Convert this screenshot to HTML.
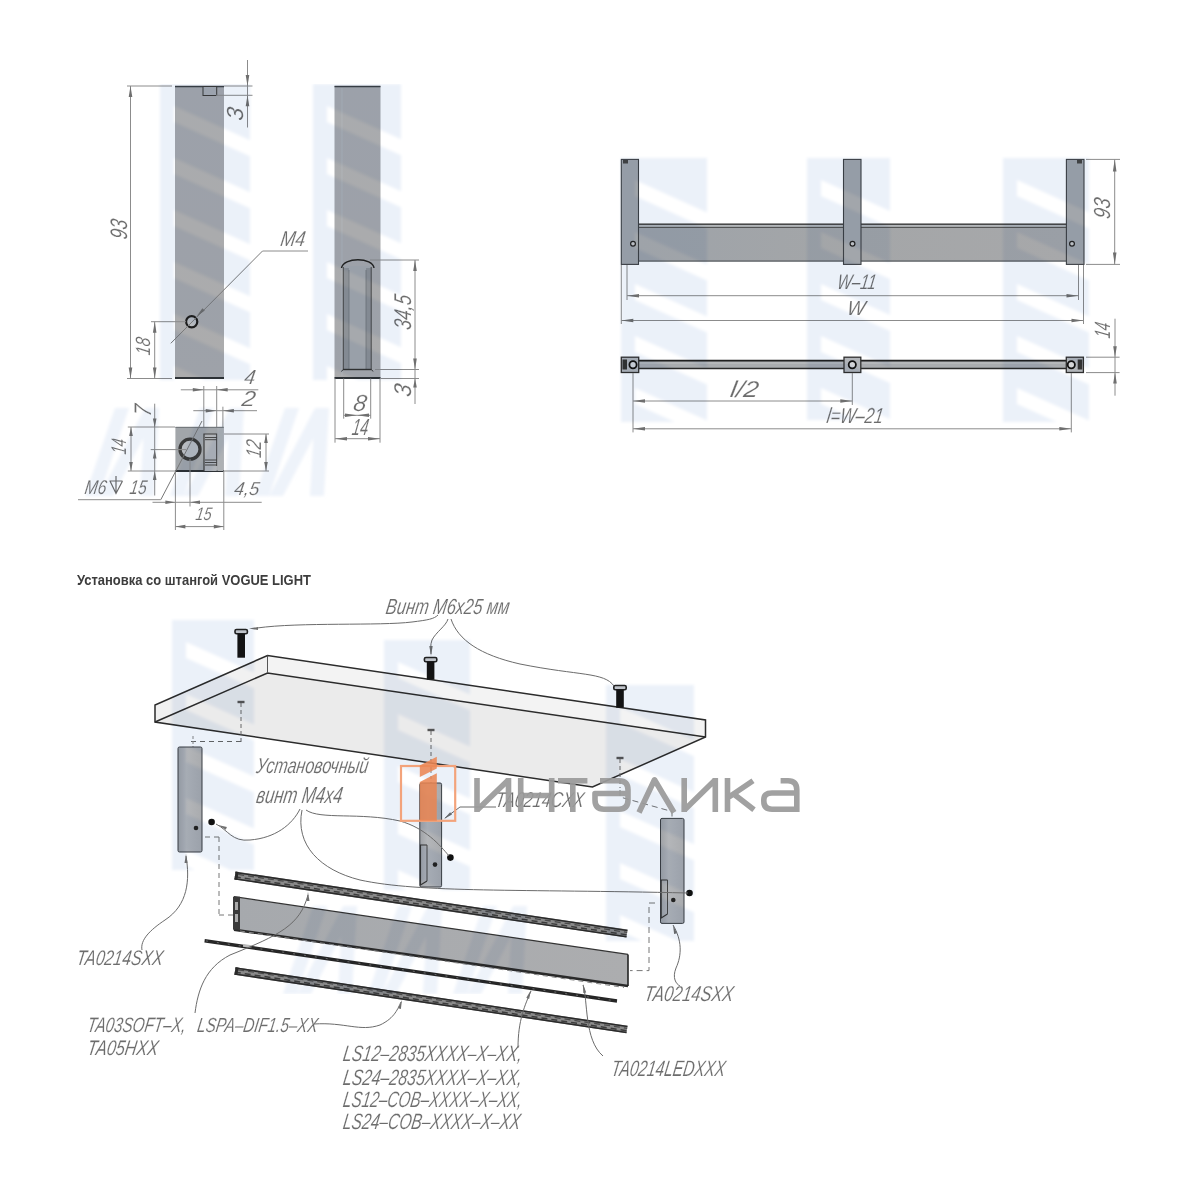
<!DOCTYPE html><html><head><meta charset="utf-8"><style>html,body{margin:0;padding:0;background:#fff;}svg{display:block;will-change:transform;}</style></head><body>
<svg width="1200" height="1200" viewBox="0 0 1200 1200">
<defs>
<linearGradient id="gpost" x1="0" y1="0" x2="0" y2="1">
 <stop offset="0" stop-color="#a9abae"/><stop offset="0.5" stop-color="#aaabad"/><stop offset="1" stop-color="#acacad"/></linearGradient>
<linearGradient id="gbar" x1="0" y1="0" x2="1" y2="0">
 <stop offset="0" stop-color="#9ea3a9"/><stop offset="0.5" stop-color="#a4a6a8"/><stop offset="1" stop-color="#a7a8aa"/></linearGradient>
<linearGradient id="gleg" x1="0" y1="0" x2="1" y2="0">
 <stop offset="0" stop-color="#9fa2a6"/><stop offset="0.35" stop-color="#b4b6b9"/><stop offset="1" stop-color="#a9abae"/></linearGradient>
<linearGradient id="gprof" x1="0" y1="0" x2="1" y2="0">
 <stop offset="0" stop-color="#a6a9ad"/><stop offset="1" stop-color="#acadaf"/></linearGradient>
<filter id="wblur" x="0" y="0" width="1" height="1"><feGaussianBlur stdDeviation="1.6"/></filter>
</defs>
<rect x="0" y="0" width="1200" height="1200" fill="#ffffff" stroke="none" stroke-width="1" rx="0" />
<rect x="175" y="86" width="49" height="292" fill="url(#gpost)" stroke="none" stroke-width="1" rx="0" />
<line x1="175" y1="86.5" x2="224" y2="86.5" stroke="#3a3f45" stroke-width="1.6"/>
<line x1="175" y1="378" x2="224" y2="378" stroke="#2e3236" stroke-width="2"/>
<rect x="203" y="86.5" width="13.7" height="9" fill="#a9adb2" stroke="#3a3a3a" stroke-width="1" rx="0" />
<circle cx="191.7" cy="321.7" r="5.6" fill="#b9bcc0" stroke="#1e1e1e" stroke-width="2.2"/>
<line x1="127" y1="86" x2="172" y2="86" stroke="#8c8c8c" stroke-width="1.0"/>
<line x1="127" y1="378.5" x2="172" y2="378.5" stroke="#8c8c8c" stroke-width="1.0"/>
<line x1="130.5" y1="86" x2="130.5" y2="378.5" stroke="#8c8c8c" stroke-width="1.0"/>
<polygon points="130.5,86.0 132.3,97.0 128.7,97.0" fill="#6f6f6f"/>
<polygon points="130.5,378.5 128.7,367.5 132.3,367.5" fill="#6f6f6f"/>
<text transform="translate(126.5,240.0) rotate(-90) skewX(-9)" x="0" y="0" font-family="Liberation Sans" font-style="italic" font-weight="normal" font-size="23.9" fill="#6c6c6c" stroke="#ffffff" stroke-width="0.15" textLength="19.5" lengthAdjust="spacingAndGlyphs">93</text>
<line x1="247.5" y1="60" x2="247.5" y2="127.5" stroke="#8c8c8c" stroke-width="1.0"/>
<line x1="224" y1="86" x2="252.5" y2="86" stroke="#8c8c8c" stroke-width="1.0"/>
<line x1="216" y1="95.3" x2="252.5" y2="95.3" stroke="#8c8c8c" stroke-width="1.0"/>
<polygon points="247.5,86.0 245.7,75.0 249.3,75.0" fill="#6f6f6f"/>
<polygon points="247.5,95.3 249.3,106.3 245.7,106.3" fill="#6f6f6f"/>
<text transform="translate(243.0,121.2) rotate(-90) skewX(-9)" x="0" y="0" font-family="Liberation Sans" font-style="italic" font-weight="normal" font-size="23.2" fill="#6c6c6c" stroke="#ffffff" stroke-width="0.15" textLength="12.7" lengthAdjust="spacingAndGlyphs">3</text>
<line x1="151" y1="321.7" x2="186" y2="321.7" stroke="#8c8c8c" stroke-width="1.0"/>
<line x1="154.7" y1="321.7" x2="154.7" y2="378.5" stroke="#8c8c8c" stroke-width="1.0"/>
<polygon points="154.7,321.7 156.5,332.7 152.9,332.7" fill="#6f6f6f"/>
<polygon points="154.7,378.5 152.9,367.5 156.5,367.5" fill="#6f6f6f"/>
<text transform="translate(150.0,355.7) rotate(-90) skewX(-9)" x="0" y="0" font-family="Liberation Sans" font-style="italic" font-weight="normal" font-size="20.6" fill="#6c6c6c" stroke="#ffffff" stroke-width="0.15" textLength="17.2" lengthAdjust="spacingAndGlyphs">18</text>
<line x1="170.8" y1="343.3" x2="262.5" y2="251" stroke="#7a7a7a" stroke-width="1"/>
<line x1="262.5" y1="251" x2="308" y2="251" stroke="#8c8c8c" stroke-width="1"/>
<polygon points="196.5,316.5 202.4,308.2 204.8,310.6" fill="#6f6f6f"/>
<text transform="translate(279.8,246.2) skewX(-9)" x="0" y="0" font-family="Liberation Sans" font-style="italic" font-weight="normal" font-size="21.7" fill="#6c6c6c" stroke="#ffffff" stroke-width="0.15" textLength="24.6" lengthAdjust="spacingAndGlyphs">M4</text>
<line x1="203.8" y1="386" x2="203.8" y2="427" stroke="#8c8c8c" stroke-width="1.0"/>
<line x1="216.7" y1="386" x2="216.7" y2="427" stroke="#8c8c8c" stroke-width="1.0"/>
<line x1="222.9" y1="406.7" x2="222.9" y2="427" stroke="#8c8c8c" stroke-width="1.0"/>
<line x1="180.8" y1="389.8" x2="258.3" y2="389.8" stroke="#8c8c8c" stroke-width="1.0"/>
<polygon points="203.8,389.8 192.8,391.6 192.8,388.0" fill="#6f6f6f"/>
<polygon points="216.7,389.8 227.7,388.0 227.7,391.6" fill="#6f6f6f"/>
<text transform="translate(243.5,384.0) skewX(-9)" x="0" y="0" font-family="Liberation Sans" font-style="italic" font-weight="normal" font-size="20.3" fill="#6c6c6c" stroke="#ffffff" stroke-width="0.15" textLength="11.0" lengthAdjust="spacingAndGlyphs">4</text>
<line x1="193.3" y1="410.7" x2="257" y2="410.7" stroke="#8c8c8c" stroke-width="1.0"/>
<polygon points="216.7,410.7 205.7,412.5 205.7,408.9" fill="#6f6f6f"/>
<polygon points="222.9,410.7 233.9,408.9 233.9,412.5" fill="#6f6f6f"/>
<text transform="translate(241.0,405.8) skewX(-9)" x="0" y="0" font-family="Liberation Sans" font-style="italic" font-weight="normal" font-size="21.7" fill="#6c6c6c" stroke="#ffffff" stroke-width="0.15" textLength="13.5" lengthAdjust="spacingAndGlyphs">2</text>
<rect x="175.4" y="427" width="48.4" height="44.2" fill="#a2a6aa" stroke="none" stroke-width="1" rx="0" />
<line x1="175.4" y1="471" x2="223.8" y2="471" stroke="#2e3236" stroke-width="1.8"/>
<line x1="175.4" y1="427.3" x2="223.8" y2="427.3" stroke="#6a6e72" stroke-width="1"/>
<rect x="204" y="434" width="12.8" height="37" fill="#b2b5b9" stroke="none" stroke-width="1" rx="0" />
<path d="M204,471 L204,434 L216.8,434 L216.8,466" fill="none" stroke="#3c3c3c" stroke-width="1.2" />
<line x1="205" y1="437.5" x2="216.8" y2="437.5" stroke="#3c3c3c" stroke-width="0.9"/>
<line x1="205" y1="439.7" x2="216.8" y2="439.7" stroke="#3c3c3c" stroke-width="0.9"/>
<line x1="205" y1="460" x2="216.8" y2="460" stroke="#3c3c3c" stroke-width="0.9"/>
<line x1="205" y1="462.5" x2="216.8" y2="462.5" stroke="#3c3c3c" stroke-width="0.9"/>
<line x1="205" y1="465" x2="216.8" y2="465" stroke="#3c3c3c" stroke-width="0.9"/>
<rect x="217.3" y="428" width="6" height="43" fill="#aeb1b4" stroke="none" stroke-width="1" rx="0" />
<circle cx="190" cy="449.2" r="10" fill="#b9bcc0" stroke="#3a3a3a" stroke-width="3.3"/>
<line x1="127.8" y1="427" x2="175" y2="427" stroke="#8c8c8c" stroke-width="1.0"/>
<line x1="127.8" y1="471" x2="175" y2="471" stroke="#8c8c8c" stroke-width="1.0"/>
<line x1="131" y1="427" x2="131" y2="471" stroke="#8c8c8c" stroke-width="1.0"/>
<polygon points="131.0,427.0 132.8,436.0 129.2,436.0" fill="#6f6f6f"/>
<polygon points="131.0,471.0 129.2,462.0 132.8,462.0" fill="#6f6f6f"/>
<text transform="translate(126.0,454.8) rotate(-90) skewX(-9)" x="0" y="0" font-family="Liberation Sans" font-style="italic" font-weight="normal" font-size="21.3" fill="#6c6c6c" stroke="#ffffff" stroke-width="0.15" textLength="14.9" lengthAdjust="spacingAndGlyphs">14</text>
<line x1="150.7" y1="449.6" x2="186" y2="449.6" stroke="#8c8c8c" stroke-width="1.0"/>
<line x1="154.7" y1="403.7" x2="154.7" y2="495.5" stroke="#8c8c8c" stroke-width="1.0"/>
<polygon points="154.7,427.5 152.9,418.5 156.5,418.5" fill="#6f6f6f"/>
<polygon points="154.7,449.6 156.5,458.6 152.9,458.6" fill="#6f6f6f"/>
<polygon points="154.7,471.0 156.5,480.0 152.9,480.0" fill="#6f6f6f"/>
<text transform="translate(150.7,417.2) rotate(-90) skewX(-9)" x="0" y="0" font-family="Liberation Sans" font-style="italic" font-weight="normal" font-size="23.9" fill="#6c6c6c" stroke="#ffffff" stroke-width="0.15" textLength="11.3" lengthAdjust="spacingAndGlyphs">7</text>
<line x1="224" y1="434" x2="269" y2="434" stroke="#8c8c8c" stroke-width="1.0"/>
<line x1="224" y1="471" x2="269" y2="471" stroke="#8c8c8c" stroke-width="1.0"/>
<line x1="266" y1="434" x2="266" y2="471" stroke="#8c8c8c" stroke-width="1.0"/>
<polygon points="266.0,434.0 267.8,443.0 264.2,443.0" fill="#6f6f6f"/>
<polygon points="266.0,471.0 264.2,462.0 267.8,462.0" fill="#6f6f6f"/>
<text transform="translate(260.8,458.5) rotate(-90) skewX(-9)" x="0" y="0" font-family="Liberation Sans" font-style="italic" font-weight="normal" font-size="21.4" fill="#6c6c6c" stroke="#ffffff" stroke-width="0.15" textLength="17.7" lengthAdjust="spacingAndGlyphs">12</text>
<line x1="190" y1="459" x2="190" y2="506.5" stroke="#8c8c8c" stroke-width="1.0"/>
<line x1="152.5" y1="502.3" x2="261.7" y2="502.3" stroke="#8c8c8c" stroke-width="1.0"/>
<polygon points="175.4,502.3 165.4,504.1 165.4,500.5" fill="#6f6f6f"/>
<polygon points="190.0,502.3 200.0,500.5 200.0,504.1" fill="#6f6f6f"/>
<text transform="translate(233.5,494.5) skewX(-9)" x="0" y="0" font-family="Liberation Sans" font-style="italic" font-weight="normal" font-size="18.6" fill="#6c6c6c" stroke="#ffffff" stroke-width="0.15" textLength="25.0" lengthAdjust="spacingAndGlyphs">4,5</text>
<line x1="175.4" y1="471" x2="175.4" y2="530" stroke="#8c8c8c" stroke-width="1.0"/>
<line x1="223.8" y1="471" x2="223.8" y2="530" stroke="#8c8c8c" stroke-width="1.0"/>
<line x1="175.4" y1="526.6" x2="223.8" y2="526.6" stroke="#8c8c8c" stroke-width="1.0"/>
<polygon points="175.4,526.6 185.4,524.8 185.4,528.4" fill="#6f6f6f"/>
<polygon points="223.8,526.6 213.8,528.4 213.8,524.8" fill="#6f6f6f"/>
<text transform="translate(195.1,520.0) skewX(-9)" x="0" y="0" font-family="Liberation Sans" font-style="italic" font-weight="normal" font-size="18.3" fill="#6c6c6c" stroke="#ffffff" stroke-width="0.15" textLength="15.8" lengthAdjust="spacingAndGlyphs">15</text>
<line x1="202" y1="421" x2="160.8" y2="499.7" stroke="#777" stroke-width="1"/>
<line x1="160.8" y1="499.7" x2="78" y2="499.7" stroke="#8c8c8c" stroke-width="1.0"/>
<text transform="translate(84.1,493.7) skewX(-9)" x="0" y="0" font-family="Liberation Sans" font-style="italic" font-weight="normal" font-size="19.9" fill="#6c6c6c" stroke="#ffffff" stroke-width="0.15" textLength="21.4" lengthAdjust="spacingAndGlyphs">M6</text>
<text transform="translate(129.0,493.7) skewX(-9)" x="0" y="0" font-family="Liberation Sans" font-style="italic" font-weight="normal" font-size="19.9" fill="#6c6c6c" stroke="#ffffff" stroke-width="0.15" textLength="16.8" lengthAdjust="spacingAndGlyphs">15</text>
<path d="M109.5,481 L122.5,481 M110,481 L116,493.5 L122.5,481 M116,476 L116,493.5" fill="none" stroke="#6c6c6c" stroke-width="1.2" />
<rect x="334.5" y="86" width="46" height="292" fill="url(#gpost)" stroke="none" stroke-width="1" rx="0" />
<line x1="334.5" y1="86.5" x2="380.5" y2="86.5" stroke="#3a3f45" stroke-width="1.6"/>
<line x1="334.5" y1="378" x2="380.5" y2="378" stroke="#2e3236" stroke-width="2"/>
<line x1="342" y1="88" x2="342" y2="376" stroke="#b0b4b8" stroke-width="1"/>
<rect x="343" y="266" width="28.5" height="103.5" fill="#a6a9ad" stroke="none" stroke-width="1" rx="0" />
<rect x="343" y="268" width="6" height="101.5" fill="#8e9297" stroke="none" stroke-width="1" rx="0" />
<rect x="366" y="268" width="5.5" height="101.5" fill="#8e9297" stroke="none" stroke-width="1" rx="0" />
<line x1="343.3" y1="267" x2="343.3" y2="369.5" stroke="#4a4a4a" stroke-width="1"/>
<line x1="371.2" y1="267" x2="371.2" y2="369.5" stroke="#4a4a4a" stroke-width="1"/>
<line x1="349" y1="270" x2="349" y2="369" stroke="#6f7378" stroke-width="0.8"/>
<line x1="366" y1="270" x2="366" y2="369" stroke="#6f7378" stroke-width="0.8"/>
<path d="M341.5,268 C343,257 373,257 374,268" fill="none" stroke="#222" stroke-width="1.4" />
<line x1="343" y1="369.5" x2="371.5" y2="369.5" stroke="#333" stroke-width="1.4"/>
<line x1="343" y1="369.5" x2="341.5" y2="371.5" stroke="#333" stroke-width="1"/>
<line x1="371.5" y1="369.5" x2="373" y2="371.5" stroke="#333" stroke-width="1"/>
<line x1="370" y1="260" x2="419" y2="260" stroke="#8c8c8c" stroke-width="1.0"/>
<line x1="375" y1="369.5" x2="419" y2="369.5" stroke="#8c8c8c" stroke-width="1.0"/>
<line x1="381" y1="378.5" x2="419" y2="378.5" stroke="#8c8c8c" stroke-width="1.0"/>
<line x1="415" y1="260" x2="415" y2="404" stroke="#8c8c8c" stroke-width="1.0"/>
<polygon points="415.0,260.0 416.8,271.0 413.2,271.0" fill="#6f6f6f"/>
<polygon points="415.0,369.5 413.2,358.5 416.8,358.5" fill="#6f6f6f"/>
<polygon points="415.0,378.5 416.8,387.5 413.2,387.5" fill="#6f6f6f"/>
<text transform="translate(410.8,330.5) rotate(-90) skewX(-9)" x="0" y="0" font-family="Liberation Sans" font-style="italic" font-weight="normal" font-size="24.3" fill="#6c6c6c" stroke="#ffffff" stroke-width="0.15" textLength="34.5" lengthAdjust="spacingAndGlyphs">34,5</text>
<text transform="translate(410.7,397.5) rotate(-90) skewX(-9)" x="0" y="0" font-family="Liberation Sans" font-style="italic" font-weight="normal" font-size="24.2" fill="#6c6c6c" stroke="#ffffff" stroke-width="0.15" textLength="12.3" lengthAdjust="spacingAndGlyphs">3</text>
<line x1="343.7" y1="378.5" x2="343.7" y2="418.7" stroke="#8c8c8c" stroke-width="1.0"/>
<line x1="370.7" y1="378.5" x2="370.7" y2="418.7" stroke="#8c8c8c" stroke-width="1.0"/>
<line x1="335" y1="378.5" x2="335" y2="442.7" stroke="#8c8c8c" stroke-width="1.0"/>
<line x1="380" y1="378.5" x2="380" y2="442.7" stroke="#8c8c8c" stroke-width="1.0"/>
<line x1="343.7" y1="415.3" x2="370.7" y2="415.3" stroke="#8c8c8c" stroke-width="1.0"/>
<polygon points="357.0,415.3 369.0,413.6 369.0,417.0" fill="#6f6f6f"/>
<polygon points="357.0,415.3 345.0,417.0 345.0,413.6" fill="#6f6f6f"/>
<text transform="translate(352.5,410.7) skewX(-9)" x="0" y="0" font-family="Liberation Sans" font-style="italic" font-weight="normal" font-size="23.2" fill="#6c6c6c" stroke="#ffffff" stroke-width="0.15" textLength="13.0" lengthAdjust="spacingAndGlyphs">8</text>
<line x1="335" y1="438.7" x2="380" y2="438.7" stroke="#8c8c8c" stroke-width="1.0"/>
<polygon points="335.0,438.7 347.0,436.9 347.0,440.5" fill="#6f6f6f"/>
<polygon points="380.0,438.7 368.0,440.5 368.0,436.9" fill="#6f6f6f"/>
<text transform="translate(351.2,434.7) skewX(-9)" x="0" y="0" font-family="Liberation Sans" font-style="italic" font-weight="normal" font-size="23.2" fill="#6c6c6c" stroke="#ffffff" stroke-width="0.15" textLength="16.3" lengthAdjust="spacingAndGlyphs">14</text>
<rect x="638" y="224" width="430" height="37.5" fill="url(#gbar)" stroke="none" stroke-width="1" rx="0" />
<line x1="638" y1="224.2" x2="1067" y2="224.2" stroke="#2e2e2e" stroke-width="1.5"/>
<line x1="638" y1="227.2" x2="1067" y2="227.2" stroke="#3a3a3a" stroke-width="1.2"/>
<line x1="638" y1="261" x2="1067" y2="261" stroke="#6a6e72" stroke-width="1.4"/>
<rect x="638" y="224.8" width="429" height="2" fill="#b4b7ba" stroke="none" stroke-width="1" rx="0" />
<rect x="621.3" y="159.4" width="17.200000000000045" height="105" fill="#a2a6ab" stroke="#3d4146" stroke-width="1.1" rx="0" />
<circle cx="633" cy="243.8" r="2.4" fill="#c8c8c8" stroke="#222" stroke-width="1.2"/>
<rect x="843.5" y="159.4" width="17.5" height="105" fill="#a2a6ab" stroke="#3d4146" stroke-width="1.1" rx="0" />
<circle cx="852.5" cy="243.8" r="2.4" fill="#c8c8c8" stroke="#222" stroke-width="1.2"/>
<rect x="1066.4" y="159.4" width="17.59999999999991" height="105" fill="#a2a6ab" stroke="#3d4146" stroke-width="1.1" rx="0" />
<circle cx="1072" cy="243.8" r="2.4" fill="#c8c8c8" stroke="#222" stroke-width="1.2"/>
<rect x="623" y="160" width="5" height="3.5" fill="#444" stroke="none" stroke-width="1" rx="0" />
<rect x="1077" y="160" width="5" height="3.5" fill="#444" stroke="none" stroke-width="1" rx="0" />
<line x1="627" y1="265" x2="627" y2="300" stroke="#8c8c8c" stroke-width="1.0"/>
<line x1="621.3" y1="265" x2="621.3" y2="324" stroke="#8c8c8c" stroke-width="1.0"/>
<line x1="1078.5" y1="265" x2="1078.5" y2="300" stroke="#8c8c8c" stroke-width="1.0"/>
<line x1="1083.5" y1="265" x2="1083.5" y2="324" stroke="#8c8c8c" stroke-width="1.0"/>
<line x1="627" y1="295.7" x2="1078.5" y2="295.7" stroke="#8c8c8c" stroke-width="1.0"/>
<polygon points="627.0,295.7 639.0,293.9 639.0,297.5" fill="#6f6f6f"/>
<polygon points="1078.5,295.7 1066.5,297.5 1066.5,293.9" fill="#6f6f6f"/>
<text transform="translate(836.5,289.4) skewX(-9)" x="0" y="0" font-family="Liberation Sans" font-style="italic" font-weight="normal" font-size="20.9" fill="#6c6c6c" stroke="#ffffff" stroke-width="0.15" textLength="38.8" lengthAdjust="spacingAndGlyphs">W–11</text>
<line x1="621.3" y1="320.5" x2="1083.5" y2="320.5" stroke="#8c8c8c" stroke-width="1.0"/>
<polygon points="621.3,320.5 633.3,318.7 633.3,322.3" fill="#6f6f6f"/>
<polygon points="1083.5,320.5 1071.5,322.3 1071.5,318.7" fill="#6f6f6f"/>
<text transform="translate(846.2,314.5) skewX(-9)" x="0" y="0" font-family="Liberation Sans" font-style="italic" font-weight="normal" font-size="20.3" fill="#6c6c6c" stroke="#ffffff" stroke-width="0.15" textLength="18.1" lengthAdjust="spacingAndGlyphs">W</text>
<line x1="1086" y1="159.4" x2="1120" y2="159.4" stroke="#8c8c8c" stroke-width="1.0"/>
<line x1="1086" y1="264.4" x2="1120" y2="264.4" stroke="#8c8c8c" stroke-width="1.0"/>
<line x1="1114.7" y1="159.4" x2="1114.7" y2="264.4" stroke="#8c8c8c" stroke-width="1.0"/>
<polygon points="1114.7,159.4 1116.5,171.4 1112.9,171.4" fill="#6f6f6f"/>
<polygon points="1114.7,264.4 1112.9,252.4 1116.5,252.4" fill="#6f6f6f"/>
<text transform="translate(1110.0,219.5) rotate(-90) skewX(-9)" x="0" y="0" font-family="Liberation Sans" font-style="italic" font-weight="normal" font-size="23.2" fill="#6c6c6c" stroke="#ffffff" stroke-width="0.15" textLength="20.3" lengthAdjust="spacingAndGlyphs">93</text>
<rect x="638.7" y="360.3" width="428" height="8.6" fill="#a9acaf" stroke="none" stroke-width="1" rx="0" />
<line x1="638.7" y1="360.6" x2="1066.4" y2="360.6" stroke="#1f1f1f" stroke-width="1.6"/>
<line x1="638.7" y1="368.5" x2="1066.4" y2="368.5" stroke="#2a2a2a" stroke-width="1.6"/>
<line x1="638.7" y1="363" x2="1066.4" y2="363" stroke="#c0c2c4" stroke-width="1"/>
<rect x="621.3" y="357.2" width="17.40000000000009" height="15.3" fill="#b2b5b9" stroke="#2f2f2f" stroke-width="1.3" rx="0" />
<circle cx="633" cy="364.8" r="3.6" fill="#d5d6d8" stroke="#111" stroke-width="1.8"/>
<rect x="844" y="357.2" width="16.799999999999955" height="15.3" fill="#b2b5b9" stroke="#2f2f2f" stroke-width="1.3" rx="0" />
<circle cx="852.3" cy="364.8" r="3.6" fill="#d5d6d8" stroke="#111" stroke-width="1.8"/>
<rect x="1066.3" y="357.2" width="17.100000000000136" height="15.3" fill="#b2b5b9" stroke="#2f2f2f" stroke-width="1.3" rx="0" />
<circle cx="1071.3" cy="364.8" r="3.6" fill="#d5d6d8" stroke="#111" stroke-width="1.8"/>
<rect x="622.5" y="359.5" width="4.5" height="10" fill="#333" stroke="none" stroke-width="1" rx="0" />
<rect x="1077.7" y="359.5" width="4.5" height="10" fill="#333" stroke="none" stroke-width="1" rx="0" />
<line x1="1086" y1="357.2" x2="1119.6" y2="357.2" stroke="#8c8c8c" stroke-width="1.0"/>
<line x1="1086" y1="372.6" x2="1119.6" y2="372.6" stroke="#8c8c8c" stroke-width="1.0"/>
<line x1="1115" y1="318.7" x2="1115" y2="395.7" stroke="#8c8c8c" stroke-width="1.0"/>
<polygon points="1115.0,357.2 1113.2,346.2 1116.8,346.2" fill="#6f6f6f"/>
<polygon points="1115.0,372.6 1116.8,383.6 1113.2,383.6" fill="#6f6f6f"/>
<text transform="translate(1110.3,338.8) rotate(-90) skewX(-9)" x="0" y="0" font-family="Liberation Sans" font-style="italic" font-weight="normal" font-size="22.2" fill="#6c6c6c" stroke="#ffffff" stroke-width="0.15" textLength="15.3" lengthAdjust="spacingAndGlyphs">14</text>
<line x1="633" y1="373" x2="633" y2="432.4" stroke="#8c8c8c" stroke-width="1.0"/>
<line x1="852.3" y1="373" x2="852.3" y2="405" stroke="#8c8c8c" stroke-width="1.0"/>
<line x1="1071.3" y1="373" x2="1071.3" y2="432.4" stroke="#8c8c8c" stroke-width="1.0"/>
<line x1="633" y1="401" x2="852.3" y2="401" stroke="#8c8c8c" stroke-width="1.0"/>
<polygon points="633.0,401.0 645.0,399.2 645.0,402.8" fill="#6f6f6f"/>
<polygon points="852.3,401.0 840.3,402.8 840.3,399.2" fill="#6f6f6f"/>
<text transform="translate(729.5,396.7) skewX(-9)" x="0" y="0" font-family="Liberation Sans" font-style="italic" font-weight="normal" font-size="22.8" fill="#6c6c6c" stroke="#ffffff" stroke-width="0.15" textLength="28.0" lengthAdjust="spacingAndGlyphs">l/2</text>
<line x1="633" y1="428.8" x2="1071.3" y2="428.8" stroke="#8c8c8c" stroke-width="1.0"/>
<polygon points="633.0,428.8 645.0,427.0 645.0,430.6" fill="#6f6f6f"/>
<polygon points="1071.3,428.8 1059.3,430.6 1059.3,427.0" fill="#6f6f6f"/>
<text transform="translate(826.0,423.3) skewX(-9)" x="0" y="0" font-family="Liberation Sans" font-style="italic" font-weight="normal" font-size="21.7" fill="#6c6c6c" stroke="#ffffff" stroke-width="0.15" textLength="56.3" lengthAdjust="spacingAndGlyphs">l=W–21</text>
<text transform="translate(77,585) scale(1,1)" font-family="Liberation Sans" font-size="14" font-style="normal" font-weight="bold" fill="#3d3d3d" text-anchor="start" textLength="234" lengthAdjust="spacingAndGlyphs">Установка со штангой VOGUE LIGHT</text>
<path d="M155,722 L267.5,673 L702.5,737.5 L592.5,787 Z" fill="#ebebeb" stroke="none" stroke-width="1" />
<path d="M155,705 L267.5,655.5 L267.5,673 L155,722 Z" fill="#f1f1f1" stroke="none" stroke-width="1" />
<path d="M267.5,655.5 L705.5,720 L705.5,737.5 L267.5,673 Z" fill="#f3f3f3" stroke="none" stroke-width="1" />
<path d="M155,722 L155,705 L267.5,655.5 L705.5,720 L705.5,737 L592.5,787 Z" fill="none" stroke="#2b2b2b" stroke-width="1.5" />
<path d="M155,722 L267.5,673 L705.5,737" fill="none" stroke="#2b2b2b" stroke-width="1.5" />
<line x1="267.5" y1="655.5" x2="267.5" y2="673" stroke="#555" stroke-width="1"/>
<rect x="235.0" y="629.5" width="12.4" height="4.2" fill="#cfcfcf" stroke="#222" stroke-width="1.6" rx="1.5" />
<rect x="237.39999999999998" y="633.7" width="7.6" height="24" fill="#141414" stroke="none" stroke-width="1" rx="0" />
<rect x="424.40000000000003" y="657.5" width="12.4" height="4.2" fill="#cfcfcf" stroke="#222" stroke-width="1.6" rx="1.5" />
<rect x="426.8" y="661.7" width="7.6" height="18" fill="#141414" stroke="none" stroke-width="1" rx="0" />
<rect x="613.8" y="685.5" width="12.4" height="4.2" fill="#cfcfcf" stroke="#222" stroke-width="1.6" rx="1.5" />
<rect x="616.2" y="689.7" width="7.6" height="18" fill="#141414" stroke="none" stroke-width="1" rx="0" />
<rect x="237.5" y="700.8" width="7" height="2.4" fill="#555" stroke="none" stroke-width="1" rx="0" />
<line x1="241" y1="703" x2="241" y2="742" stroke="#666" stroke-width="1" stroke-dasharray="4,3"/>
<rect x="427.5" y="728.8" width="7" height="2.4" fill="#555" stroke="none" stroke-width="1" rx="0" />
<line x1="431" y1="731" x2="431" y2="770" stroke="#666" stroke-width="1" stroke-dasharray="4,3"/>
<rect x="616.5" y="756.8" width="7" height="2.4" fill="#555" stroke="none" stroke-width="1" rx="0" />
<line x1="620" y1="759" x2="620" y2="788" stroke="#666" stroke-width="1" stroke-dasharray="4,3"/>
<line x1="191" y1="741.5" x2="241" y2="741.5" stroke="#666" stroke-width="1" stroke-dasharray="5,4"/>
<line x1="193" y1="736" x2="193" y2="747" stroke="#888" stroke-width="1" stroke-dasharray="3,2"/>
<line x1="431" y1="770" x2="431" y2="790" stroke="#888" stroke-width="1" stroke-dasharray="3,3"/>
<path d="M620,790 L620,797 L672,811.5 L672,818" fill="none" stroke="#777" stroke-width="1" stroke-dasharray="6,4"/>
<rect x="178" y="747" width="24" height="105" fill="url(#gleg)" stroke="#3b3f44" stroke-width="1" rx="1.5" />
<circle cx="196" cy="828" r="2.3" fill="#222"/>
<rect x="419.8" y="783" width="21.8" height="104" fill="url(#gleg)" stroke="#3b3f44" stroke-width="1" rx="1.5" />
<path d="M427,845 L420.5,845 L420.5,885 L427,881" fill="none" stroke="#333" stroke-width="1.1" />
<line x1="427" y1="845" x2="427" y2="881" stroke="#444" stroke-width="1"/>
<circle cx="435" cy="864.6" r="2.3" fill="#222"/>
<rect x="660.5" y="818.4" width="23.5" height="105" fill="url(#gleg)" stroke="#3b3f44" stroke-width="1" rx="1.5" />
<path d="M667.5,880 L661.2,880 L661.2,918 L667.5,914" fill="none" stroke="#333" stroke-width="1.1" />
<line x1="667.5" y1="880" x2="667.5" y2="914" stroke="#444" stroke-width="1"/>
<circle cx="673.3" cy="900" r="2.3" fill="#222"/>
<circle cx="211.6" cy="822" r="3.3" fill="#111"/>
<circle cx="450.4" cy="857.6" r="3.3" fill="#111"/>
<circle cx="689.5" cy="893" r="3.3" fill="#111"/>
<path d="M216,824 C228,830 232,842 250,840 C275,838 292,825 300,809" fill="none" stroke="#6b6b6b" stroke-width="1" />
<polygon points="218.0,825.0 226.9,826.9 225.8,829.7" fill="#6f6f6f"/>
<path d="M306,810 C320,820 360,812 400,821 C425,828 440,845 449,856" fill="none" stroke="#6b6b6b" stroke-width="1" />
<path d="M302,810 C295,845 320,870 360,880 C420,893 520,889 688,893" fill="none" stroke="#6b6b6b" stroke-width="1" />
<path d="M257,628 C300,622 380,626 412,622 C428,620 434,619 438,615" fill="none" stroke="#6b6b6b" stroke-width="1" />
<polygon points="249.0,628.5 258.0,627.0 258.0,630.0" fill="#6f6f6f"/>
<path d="M448,619 C446,626 436,632 432,640 C430,645 431,650 431,654" fill="none" stroke="#6b6b6b" stroke-width="1" />
<polygon points="431.0,656.0 429.3,646.0 432.7,646.0" fill="#6f6f6f"/>
<path d="M451,619 C458,640 480,655 520,664 C580,676 604,672 614,686" fill="none" stroke="#6b6b6b" stroke-width="1" />
<text transform="translate(385.1,613.8) skewX(-9)" x="0" y="0" font-family="Liberation Sans" font-style="italic" font-weight="normal" font-size="21.8" fill="#6c6c6c" stroke="#ffffff" stroke-width="0.15" textLength="123.4" lengthAdjust="spacingAndGlyphs">Винт М6х25 мм</text>
<text transform="translate(255.5,773.0) skewX(-9)" x="0" y="0" font-family="Liberation Sans" font-style="italic" font-weight="normal" font-size="21.7" fill="#6c6c6c" stroke="#ffffff" stroke-width="0.15" textLength="112.0" lengthAdjust="spacingAndGlyphs">Установочный</text>
<text transform="translate(255.5,803.0) skewX(-9)" x="0" y="0" font-family="Liberation Sans" font-style="italic" font-weight="normal" font-size="23.2" fill="#6c6c6c" stroke="#ffffff" stroke-width="0.15" textLength="86.0" lengthAdjust="spacingAndGlyphs">винт М4х4</text>
<polygon points="234.4,879.6 626.4,937.6 627.6,929.6 235.6,871.6" fill="#8a8a8a"/>
<line x1="234.53162962001355" y1="878.7655377405982" x2="626.5316296200135" y2="936.7655377405982" stroke="#2a2a2a" stroke-width="1.6"/>
<line x1="235.46837037998645" y1="872.4344622594018" x2="627.4683703799865" y2="930.4344622594018" stroke="#2a2a2a" stroke-width="1.6"/>
<line x1="234.82436110750507" y1="876.7870766527243" x2="626.8243611075051" y2="934.7870766527243" stroke="#3c3c3c" stroke-width="1.5" stroke-dasharray="6,4"/>
<line x1="238.17563889249493" y1="874.4129233472758" x2="627.1756388924949" y2="932.4129233472758" stroke="#4a4a4a" stroke-width="1.3" stroke-dasharray="6,4"/>
<polygon points="234.4,879.6 237.4,880.0 238.6,872.0 235.6,871.6" fill="#2a2a2a"/>
<polygon points="234.4,974.7 626.4,1033.2 627.6,1025.8 235.6,967.3" fill="#8a8a8a"/>
<line x1="234.56457957643104" y1="973.9176889921201" x2="626.564579576431" y2="1032.4176889921202" stroke="#2a2a2a" stroke-width="1.6"/>
<line x1="235.43542042356896" y1="968.0823110078799" x2="627.435420423569" y2="1026.5823110078798" stroke="#2a2a2a" stroke-width="1.6"/>
<line x1="234.82287982770077" y1="972.1868565391675" x2="626.8228798277007" y2="1030.6868565391676" stroke="#3c3c3c" stroke-width="1.5" stroke-dasharray="6,4"/>
<line x1="238.17712017229923" y1="969.8131434608325" x2="627.1771201722993" y2="1028.3131434608324" stroke="#4a4a4a" stroke-width="1.3" stroke-dasharray="6,4"/>
<polygon points="234.4,974.7 237.4,975.1 238.6,967.7 235.6,967.3" fill="#2a2a2a"/>
<polygon points="204.4,942.4 616.8,1002.7 617.2,999.3 204.8,939.0" fill="#262626"/>
<line x1="206" y1="940.9" x2="615" y2="1000.8" stroke="#6a6a6a" stroke-width="1" stroke-dasharray="2,9"/>
<rect x="243" y="944.5" width="7" height="2.6" fill="#bbb" stroke="none" stroke-width="1" rx="0" transform="rotate(8.2 246 946)"/>
<polygon points="234,896.7 628,954.4 628,986 234,929.7" fill="url(#gprof)"/>
<line x1="234" y1="896.7" x2="628" y2="954.4" stroke="#333" stroke-width="1.2"/>
<path d="M234,929.7 L628,986" fill="none" stroke="#2a2a2a" stroke-width="2.6" />
<path d="M240,931 L624,987.5" fill="none" stroke="#888" stroke-width="1" stroke-dasharray="5,4"/>
<line x1="628" y1="954.4" x2="628" y2="986" stroke="#222" stroke-width="1.6"/>
<rect x="233" y="896.7" width="7" height="33" fill="#3a3a3a" stroke="none" stroke-width="1" rx="0" />
<rect x="235" y="902" width="3" height="8" fill="#aaa" stroke="none" stroke-width="1" rx="0" />
<rect x="235" y="914" width="3" height="8" fill="#aaa" stroke="none" stroke-width="1" rx="0" />
<path d="M219,837 L202,837" fill="none" stroke="#777" stroke-width="1" stroke-dasharray="5,4"/>
<line x1="219" y1="837" x2="219" y2="915" stroke="#777" stroke-width="1" stroke-dasharray="5,4"/>
<line x1="219" y1="915" x2="233" y2="915" stroke="#777" stroke-width="1" stroke-dasharray="5,4"/>
<path d="M655,903 L649,903 L649,970.6 L630,970.6" fill="none" stroke="#777" stroke-width="1" stroke-dasharray="6,4"/>
<path d="M186,856 C190,880 188,905 165,920 C150,930 140,940 142,950" fill="none" stroke="#6b6b6b" stroke-width="1" />
<polygon points="186.0,854.0 187.5,863.0 184.5,863.0" fill="#6f6f6f"/>
<text transform="translate(75.8,964.7) skewX(-9)" x="0" y="0" font-family="Liberation Sans" font-style="italic" font-weight="normal" font-size="21.0" fill="#6c6c6c" stroke="#ffffff" stroke-width="0.15" textLength="86.3" lengthAdjust="spacingAndGlyphs">TA0214SXX</text>
<path d="M308,895 C300,925 280,935 230,955 C205,968 198,990 195,1013" fill="none" stroke="#6b6b6b" stroke-width="1" />
<polygon points="308.0,892.0 309.5,901.0 306.5,901.0" fill="#6f6f6f"/>
<text transform="translate(86.5,1032.4) skewX(-9)" x="0" y="0" font-family="Liberation Sans" font-style="italic" font-weight="normal" font-size="20.9" fill="#6c6c6c" stroke="#ffffff" stroke-width="0.15" textLength="98.6" lengthAdjust="spacingAndGlyphs">TA03SOFT–X,</text>
<text transform="translate(86.5,1055.3) skewX(-9)" x="0" y="0" font-family="Liberation Sans" font-style="italic" font-weight="normal" font-size="21.0" fill="#6c6c6c" stroke="#ffffff" stroke-width="0.15" textLength="70.8" lengthAdjust="spacingAndGlyphs">TA05HXX</text>
<text transform="translate(196.5,1032.0) skewX(-9)" x="0" y="0" font-family="Liberation Sans" font-style="italic" font-weight="normal" font-size="20.3" fill="#6c6c6c" stroke="#ffffff" stroke-width="0.15" textLength="120.3" lengthAdjust="spacingAndGlyphs">LSPA–DIF1.5–XX</text>
<path d="M314,1024 C345,1022 360,1032 380,1025 C395,1018 398,1008 401,1002" fill="none" stroke="#6b6b6b" stroke-width="1" />
<polygon points="402.0,1000.0 400.9,1009.1 398.0,1008.2" fill="#6f6f6f"/>
<path d="M531,991 C525,1005 518,1020 518,1048" fill="none" stroke="#6b6b6b" stroke-width="1" />
<polygon points="531.0,990.0 529.1,998.9 526.3,997.8" fill="#6f6f6f"/>
<text transform="translate(342.2,1060.7) skewX(-9)" x="0" y="0" font-family="Liberation Sans" font-style="italic" font-weight="normal" font-size="22.2" fill="#6c6c6c" stroke="#ffffff" stroke-width="0.15" textLength="178.9" lengthAdjust="spacingAndGlyphs">LS12–2835XXXX–X–XX,</text>
<text transform="translate(342.2,1084.7) skewX(-9)" x="0" y="0" font-family="Liberation Sans" font-style="italic" font-weight="normal" font-size="22.3" fill="#6c6c6c" stroke="#ffffff" stroke-width="0.15" textLength="178.9" lengthAdjust="spacingAndGlyphs">LS24–2835XXXX–X–XX,</text>
<text transform="translate(342.2,1106.9) skewX(-9)" x="0" y="0" font-family="Liberation Sans" font-style="italic" font-weight="normal" font-size="22.3" fill="#6c6c6c" stroke="#ffffff" stroke-width="0.15" textLength="178.9" lengthAdjust="spacingAndGlyphs">LS12–COB–XXXX–X–XX,</text>
<text transform="translate(342.2,1129.0) skewX(-9)" x="0" y="0" font-family="Liberation Sans" font-style="italic" font-weight="normal" font-size="22.2" fill="#6c6c6c" stroke="#ffffff" stroke-width="0.15" textLength="177.3" lengthAdjust="spacingAndGlyphs">LS24–COB–XXXX–X–XX</text>
<path d="M583,985 C588,1000 584,1040 603,1056" fill="none" stroke="#6b6b6b" stroke-width="1" />
<polygon points="583.0,984.0 586.2,992.5 583.3,993.1" fill="#6f6f6f"/>
<text transform="translate(610.4,1076.1) skewX(-9)" x="0" y="0" font-family="Liberation Sans" font-style="italic" font-weight="normal" font-size="22.3" fill="#6c6c6c" stroke="#ffffff" stroke-width="0.15" textLength="114.0" lengthAdjust="spacingAndGlyphs">TA0214LEDXXX</text>
<path d="M673,925 C682,940 682,955 676,968 C672,978 676,984 680,986" fill="none" stroke="#6b6b6b" stroke-width="1" />
<polygon points="673.0,925.0 677.0,933.2 674.1,934.1" fill="#6f6f6f"/>
<text transform="translate(643.5,1000.8) skewX(-9)" x="0" y="0" font-family="Liberation Sans" font-style="italic" font-weight="normal" font-size="21.4" fill="#6c6c6c" stroke="#ffffff" stroke-width="0.15" textLength="89.0" lengthAdjust="spacingAndGlyphs">TA0214SXX</text>
<line x1="460" y1="807" x2="496" y2="807" stroke="#6b6b6b" stroke-width="1"/>
<line x1="460" y1="807" x2="445" y2="818" stroke="#6b6b6b" stroke-width="1"/>
<polygon points="444.0,819.0 450.1,812.2 452.0,814.5" fill="#6f6f6f"/>
<text transform="translate(494.5,807.4) skewX(-9)" x="0" y="0" font-family="Liberation Sans" font-style="italic" font-weight="normal" font-size="21.6" fill="#6c6c6c" stroke="#ffffff" stroke-width="0.15" textLength="88.6" lengthAdjust="spacingAndGlyphs">TA0214CXX</text>
<g style="mix-blend-mode:multiply" filter="url(#wblur)">
<g>
<clipPath id="c160_84"><rect x="160" y="84" width="90" height="296"/></clipPath>
<g clip-path="url(#c160_84)">
<rect x="160" y="84" width="90" height="296" fill="#ebf1f9" stroke="none" stroke-width="1" rx="0" />
<polygon points="174,106 255,142.45 255,158.45 174,122" fill="#ffffff"/>
<polygon points="174,158 255,194.45 255,210.45 174,174" fill="#ffffff"/>
<polygon points="174,210 255,246.45 255,262.45 174,226" fill="#ffffff"/>
<polygon points="174,262 255,298.45 255,314.45 174,278" fill="#ffffff"/>
<polygon points="174,314 255,350.45 255,366.45 174,330" fill="#ffffff"/>
<polygon points="174,366 255,402.45 255,418.45 174,382" fill="#ffffff"/>
</g>
<clipPath id="c313_84"><rect x="313" y="84" width="88" height="296"/></clipPath>
<g clip-path="url(#c313_84)">
<rect x="313" y="84" width="88" height="296" fill="#ebf1f9" stroke="none" stroke-width="1" rx="0" />
<polygon points="327,106 406,141.55 406,157.55 327,122" fill="#ffffff"/>
<polygon points="327,158 406,193.55 406,209.55 327,174" fill="#ffffff"/>
<polygon points="327,210 406,245.55 406,261.55 327,226" fill="#ffffff"/>
<polygon points="327,262 406,297.55 406,313.55 327,278" fill="#ffffff"/>
<polygon points="327,314 406,349.55 406,365.55 327,330" fill="#ffffff"/>
<polygon points="327,366 406,401.55 406,417.55 327,382" fill="#ffffff"/>
</g>
<clipPath id="c621_158"><rect x="621" y="158" width="86" height="264"/></clipPath>
<g clip-path="url(#c621_158)">
<rect x="621" y="158" width="86" height="264" fill="#ebf1f9" stroke="none" stroke-width="1" rx="0" />
<polygon points="635,180 712,214.65 712,230.65 635,196" fill="#ffffff"/>
<polygon points="635,232 712,266.65 712,282.65 635,248" fill="#ffffff"/>
<polygon points="635,284 712,318.65 712,334.65 635,300" fill="#ffffff"/>
<polygon points="635,336 712,370.65 712,386.65 635,352" fill="#ffffff"/>
<polygon points="635,388 712,422.65 712,438.65 635,404" fill="#ffffff"/>
</g>
<clipPath id="c807_158"><rect x="807" y="158" width="83" height="262"/></clipPath>
<g clip-path="url(#c807_158)">
<rect x="807" y="158" width="83" height="262" fill="#ebf1f9" stroke="none" stroke-width="1" rx="0" />
<polygon points="821,180 895,213.3 895,229.3 821,196" fill="#ffffff"/>
<polygon points="821,232 895,265.3 895,281.3 821,248" fill="#ffffff"/>
<polygon points="821,284 895,317.3 895,333.3 821,300" fill="#ffffff"/>
<polygon points="821,336 895,369.3 895,385.3 821,352" fill="#ffffff"/>
<polygon points="821,388 895,421.3 895,437.3 821,404" fill="#ffffff"/>
</g>
<clipPath id="c1003_158"><rect x="1003" y="158" width="86" height="264"/></clipPath>
<g clip-path="url(#c1003_158)">
<rect x="1003" y="158" width="86" height="264" fill="#ebf1f9" stroke="none" stroke-width="1" rx="0" />
<polygon points="1017,180 1094,214.65 1094,230.65 1017,196" fill="#ffffff"/>
<polygon points="1017,232 1094,266.65 1094,282.65 1017,248" fill="#ffffff"/>
<polygon points="1017,284 1094,318.65 1094,334.65 1017,300" fill="#ffffff"/>
<polygon points="1017,336 1094,370.65 1094,386.65 1017,352" fill="#ffffff"/>
<polygon points="1017,388 1094,422.65 1094,438.65 1017,404" fill="#ffffff"/>
</g>
<clipPath id="c172_620"><rect x="172" y="620" width="82" height="250"/></clipPath>
<g clip-path="url(#c172_620)">
<rect x="172" y="620" width="82" height="250" fill="#ebf1f9" stroke="none" stroke-width="1" rx="0" />
<polygon points="186,642 259,674.85 259,690.85 186,658" fill="#ffffff"/>
<polygon points="186,694 259,726.85 259,742.85 186,710" fill="#ffffff"/>
<polygon points="186,746 259,778.85 259,794.85 186,762" fill="#ffffff"/>
<polygon points="186,798 259,830.85 259,846.85 186,814" fill="#ffffff"/>
<polygon points="186,850 259,882.85 259,898.85 186,866" fill="#ffffff"/>
</g>
<clipPath id="c384_640"><rect x="384" y="640" width="86" height="250"/></clipPath>
<g clip-path="url(#c384_640)">
<rect x="384" y="640" width="86" height="250" fill="#ebf1f9" stroke="none" stroke-width="1" rx="0" />
<polygon points="398,662 475,696.65 475,712.65 398,678" fill="#ffffff"/>
<polygon points="398,714 475,748.65 475,764.65 398,730" fill="#ffffff"/>
<polygon points="398,766 475,800.65 475,816.65 398,782" fill="#ffffff"/>
<polygon points="398,818 475,852.65 475,868.65 398,834" fill="#ffffff"/>
<polygon points="398,870 475,904.65 475,920.65 398,886" fill="#ffffff"/>
</g>
<clipPath id="c606_685"><rect x="606" y="685" width="88" height="256"/></clipPath>
<g clip-path="url(#c606_685)">
<rect x="606" y="685" width="88" height="256" fill="#ebf1f9" stroke="none" stroke-width="1" rx="0" />
<polygon points="620,707 699,742.55 699,758.55 620,723" fill="#ffffff"/>
<polygon points="620,759 699,794.55 699,810.55 620,775" fill="#ffffff"/>
<polygon points="620,811 699,846.55 699,862.55 620,827" fill="#ffffff"/>
<polygon points="620,863 699,898.55 699,914.55 620,879" fill="#ffffff"/>
<polygon points="620,915 699,950.55 699,966.55 620,931" fill="#ffffff"/>
</g>
<g fill="#eef3fa">
<polygon points="85,496 115,408 129,408 99,496"/>
<polygon points="99,496 145,408 159,408 113,496"/>
<polygon points="140,496 145,408 159,408 154,496"/>
<polygon points="170,496 200,408 214,408 184,496"/>
<polygon points="184,496 230,408 244,408 198,496"/>
<polygon points="225,496 230,408 244,408 239,496"/>
<polygon points="255,496 285,408 299,408 269,496"/>
<polygon points="269,496 315,408 329,408 283,496"/>
<polygon points="310,496 315,408 329,408 324,496"/>
</g>
<g fill="#eef3fa">
<polygon points="283,994 313,906 327,906 297,994"/>
<polygon points="297,994 343,906 357,906 311,994"/>
<polygon points="338,994 343,906 357,906 352,994"/>
<polygon points="368,994 398,906 412,906 382,994"/>
<polygon points="382,994 428,906 442,906 396,994"/>
<polygon points="423,994 428,906 442,906 437,994"/>
<polygon points="453,994 483,906 497,906 467,994"/>
<polygon points="467,994 513,906 527,906 481,994"/>
<polygon points="508,994 513,906 527,906 522,994"/>
</g>
</g>
</g>
<g>
<rect x="401" y="766" width="54.2" height="54.8" fill="none" stroke="#f3a37b" stroke-width="2.2" rx="0" />
<polygon points="419.8,765.5 436.8,756.7 436.8,768.4 419.8,776.9" fill="#ec8654" opacity="0.88"/>
<polygon points="419.8,781.9 436.8,773.3 436.8,820.8 419.8,820.8" fill="#ea8450" opacity="0.85"/>
</g>
<g fill="none" stroke="#9a9a9a" stroke-width="5.6" opacity="0.93" stroke-linejoin="round">
<path d="M477,778 L477,812 M478,809.2 L507.5,780.8 M508.5,778 L508.5,812"/>
<path d="M520.7,778 L520.7,812 M551.7,778 L551.7,812 M520.7,795.5 L551.7,795.5"/>
<path d="M558,780.8 L587.4,780.8 M572.8,780.8 L572.8,812"/>
<path d="M600,780.8 L619,780.8 Q628,780.8 628,790 L628,800 Q628,809.2 619,809.2 L604,809.2 Q595,809.2 595,800 L595,793.5 L628,793.5"/>
<path d="M639,812.5 L654.5,779.8 L674,812.5" stroke-linejoin="round"/>
<path d="M684.2,778 L684.2,812 M685.2,809.2 L714.3,780.8 M715.3,778 L715.3,812"/>
<path d="M727.5,778 L727.5,812 M729,797 L753,780.8 M735,795 L754,809.7"/>
<path d="M780.6,780.8 L788,780.8 Q796.8,780.8 796.8,790 L796.8,812 M796.8,793 L772,793 Q763.8,793 763.8,800 L763.8,801 Q763.8,809.2 772,809.2 L796.8,809.2"/>
</g>
</svg></body></html>
